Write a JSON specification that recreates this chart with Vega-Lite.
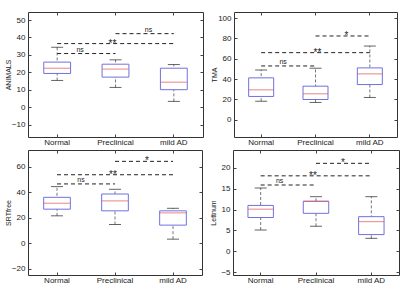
{
  "$schema": "https://vega.github.io/schema/vega-lite/v6.json",
  "padding": {"left": 3, "top": 11, "right": 0, "bottom": 0},
  "config": {
    "view": {"stroke": "#333", "strokeWidth": 1},
    "font": "Liberation Sans",
    "axis": {"labelFont": "Liberation Sans", "labelFontSize": 8, "labelColor": "#222", "titleFont": "Liberation Sans", "titleFontSize": 7, "titleFontWeight": "normal", "titleColor": "#222", "tickColor": "#444", "grid": false, "domain": false}
  },
  "datasets": {
    "b1": [
      {"group": "Normal", "lo": 15.4, "q1": 19.4, "med": 22.4, "q3": 25.9, "hi": 34.4},
      {"group": "Preclinical", "lo": 11.4, "q1": 17.3, "med": 21.9, "q3": 24.7, "hi": 27.2},
      {"group": "mild AD", "lo": 3.4, "q1": 10.1, "med": 14.4, "q3": 22.4, "hi": 24.5}
    ],
    "s1": [
      {"from": "Normal", "to": "Preclinical", "y": 30.8, "label": "ns"},
      {"from": "Normal", "to": "mild AD", "y": 36.5, "label": "**"},
      {"from": "Preclinical", "to": "mild AD", "y": 42.2, "label": "ns"}
    ],
    "b2": [
      {"group": "Normal", "lo": 18.3, "q1": 22.9, "med": 29.4, "q3": 41.2, "hi": 49},
      {"group": "Preclinical", "lo": 17, "q1": 19.9, "med": 25.5, "q3": 33, "hi": 50.7},
      {"group": "mild AD", "lo": 21.9, "q1": 34.6, "med": 45.1, "q3": 51, "hi": 72.5}
    ],
    "s2": [
      {"from": "Normal", "to": "Preclinical", "y": 52.9, "label": "ns"},
      {"from": "Normal", "to": "mild AD", "y": 66, "label": "**"},
      {"from": "Preclinical", "to": "mild AD", "y": 82.4, "label": "*"}
    ],
    "b3": [
      {"group": "Normal", "lo": 21.4, "q1": 26.6, "med": 31.3, "q3": 35.9, "hi": 44.3},
      {"group": "Preclinical", "lo": 14.6, "q1": 25.3, "med": 33.1, "q3": 38.5, "hi": 42.2},
      {"group": "mild AD", "lo": 3.1, "q1": 14.1, "med": 23.7, "q3": 25.3, "hi": 27.3}
    ],
    "s3": [
      {"from": "Normal", "to": "Preclinical", "y": 46.4, "label": "ns"},
      {"from": "Normal", "to": "mild AD", "y": 53.6, "label": "**"},
      {"from": "Preclinical", "to": "mild AD", "y": 64.1, "label": "*"}
    ],
    "b4": [
      {"group": "Normal", "lo": 5.1, "q1": 8.1, "med": 10.1, "q3": 11, "hi": 15.2},
      {"group": "Preclinical", "lo": 6, "q1": 9.1, "med": 12, "q3": 12, "hi": 13.1},
      {"group": "mild AD", "lo": 3.1, "q1": 4, "med": 7.1, "q3": 8.3, "hi": 13.1}
    ],
    "s4": [
      {"from": "Normal", "to": "Preclinical", "y": 15.9, "label": "ns"},
      {"from": "Normal", "to": "mild AD", "y": 18.1, "label": "**"},
      {"from": "Preclinical", "to": "mild AD", "y": 21.1, "label": "*"}
    ]
  },
  "spacing": 2,
  "vconcat": [
    {
      "spacing": 5,
      "hconcat": [
        {
          "width": 175, "height": 125,
          "resolve": {"axis": {"x": "independent", "y": "independent"}},
          "layer": [
            {"data": {"name": "b1"}, "mark": {"type": "rule", "strokeDash": [3, 2], "color": "#555", "strokeWidth": 0.8},
             "encoding": {
               "x": {"field": "group", "type": "nominal", "scale": {"type": "band", "domain": ["Normal", "Preclinical", "mild AD"], "paddingInner": 0, "paddingOuter": 0}, "axis": {"title": null, "labelAngle": 0, "tickSize": -3, "labelPadding": 4}},
               "y": {"field": "lo", "type": "quantitative", "scale": {"domain": [-17, 54.6], "nice": false, "zero": false}, "axis": {"title": "ANIMALS", "values": [-10, 0, 10, 20, 30, 40, 50], "tickSize": -3, "labelPadding": 6, "titleX": -17, "titleBaseline": "bottom"}},
               "y2": {"field": "hi"}}},
            {"data": {"name": "b1"}, "mark": {"type": "bar", "fill": "white", "stroke": "#7070e0", "strokeWidth": 1, "width": {"band": 0.46}},
             "encoding": {"x": {"field": "group", "type": "nominal", "axis": null}, "y": {"field": "q1", "type": "quantitative", "axis": null}, "y2": {"field": "q3"}}},
            {"data": {"name": "b1"}, "mark": {"type": "tick", "color": "#e05050", "size": 26, "thickness": 1},
             "encoding": {"x": {"field": "group", "type": "nominal", "axis": null}, "y": {"field": "med", "type": "quantitative", "axis": null}}},
            {"data": {"name": "b1"}, "mark": {"type": "tick", "color": "#222", "size": 12, "thickness": 1},
             "encoding": {"x": {"field": "group", "type": "nominal", "axis": null}, "y": {"field": "lo", "type": "quantitative", "axis": null}}},
            {"data": {"name": "b1"}, "mark": {"type": "tick", "color": "#222", "size": 12, "thickness": 1},
             "encoding": {"x": {"field": "group", "type": "nominal", "axis": null}, "y": {"field": "hi", "type": "quantitative", "axis": null}}},
            {"data": {"name": "s1"}, "mark": {"type": "rule", "strokeDash": [4, 3], "color": "#222", "strokeWidth": 1},
             "encoding": {
               "x": {"field": "from", "type": "nominal", "axis": {"orient": "top", "labels": false, "title": null, "tickSize": -3}},
               "x2": {"field": "to"},
               "y": {"field": "y", "type": "quantitative", "axis": {"orient": "right", "labels": false, "title": null, "tickSize": -3, "values": [-10, 0, 10, 20, 30, 40, 50]}}}},
            {"data": {"name": "s1"}, "transform": [{"filter": "datum.from == 'Normal' && datum.to == 'Preclinical'"}],
             "mark": {"type": "text", "dx": 23, "dy": -2, "baseline": "alphabetic", "fontSize": 7, "color": "#222"},
             "encoding": {"x": {"field": "from", "type": "nominal", "axis": null}, "y": {"field": "y", "type": "quantitative", "axis": null}, "text": {"field": "label"}}},
            {"data": {"name": "s1"}, "transform": [{"filter": "datum.from == 'Normal' && datum.to == 'mild AD'"}],
             "mark": {"type": "text", "dx": -3, "dy": 3, "baseline": "alphabetic", "fontSize": 10, "color": "#222"},
             "encoding": {"x": {"datum": "Preclinical", "type": "nominal", "axis": null}, "y": {"field": "y", "type": "quantitative", "axis": null}, "text": {"field": "label"}}},
            {"data": {"name": "s1"}, "transform": [{"filter": "datum.from == 'Preclinical'"}],
             "mark": {"type": "text", "dx": 33, "dy": -2, "baseline": "alphabetic", "fontSize": 7, "color": "#222"},
             "encoding": {"x": {"field": "from", "type": "nominal", "axis": null}, "y": {"field": "y", "type": "quantitative", "axis": null}, "text": {"field": "label"}}}
          ]
        },
        {
          "width": 163, "height": 125,
          "resolve": {"axis": {"x": "independent", "y": "independent"}},
          "layer": [
            {"data": {"name": "b2"}, "mark": {"type": "rule", "strokeDash": [3, 2], "color": "#555", "strokeWidth": 0.8},
             "encoding": {
               "x": {"field": "group", "type": "nominal", "scale": {"type": "band", "domain": ["Normal", "Preclinical", "mild AD"], "paddingInner": 0, "paddingOuter": 0}, "axis": {"title": null, "labelAngle": 0, "tickSize": -3, "labelPadding": 4}},
               "y": {"field": "lo", "type": "quantitative", "scale": {"domain": [-17, 106], "nice": false, "zero": false}, "axis": {"title": "TMA", "values": [0, 20, 40, 60, 80, 100], "tickSize": -3, "labelPadding": 6, "titleX": -17, "titleBaseline": "bottom"}},
               "y2": {"field": "hi"}}},
            {"data": {"name": "b2"}, "mark": {"type": "bar", "fill": "white", "stroke": "#7070e0", "strokeWidth": 1, "width": {"band": 0.46}},
             "encoding": {"x": {"field": "group", "type": "nominal", "axis": null}, "y": {"field": "q1", "type": "quantitative", "axis": null}, "y2": {"field": "q3"}}},
            {"data": {"name": "b2"}, "mark": {"type": "tick", "color": "#e05050", "size": 25, "thickness": 1},
             "encoding": {"x": {"field": "group", "type": "nominal", "axis": null}, "y": {"field": "med", "type": "quantitative", "axis": null}}},
            {"data": {"name": "b2"}, "mark": {"type": "tick", "color": "#222", "size": 12, "thickness": 1},
             "encoding": {"x": {"field": "group", "type": "nominal", "axis": null}, "y": {"field": "lo", "type": "quantitative", "axis": null}}},
            {"data": {"name": "b2"}, "mark": {"type": "tick", "color": "#222", "size": 12, "thickness": 1},
             "encoding": {"x": {"field": "group", "type": "nominal", "axis": null}, "y": {"field": "hi", "type": "quantitative", "axis": null}}},
            {"data": {"name": "s2"}, "mark": {"type": "rule", "strokeDash": [4, 3], "color": "#222", "strokeWidth": 1},
             "encoding": {
               "x": {"field": "from", "type": "nominal", "axis": {"orient": "top", "labels": false, "title": null, "tickSize": -3}},
               "x2": {"field": "to"},
               "y": {"field": "y", "type": "quantitative", "axis": {"orient": "right", "labels": false, "title": null, "tickSize": -3, "values": [0, 20, 40, 60, 80, 100]}}}},
            {"data": {"name": "s2"}, "transform": [{"filter": "datum.from == 'Normal' && datum.to == 'Preclinical'"}],
             "mark": {"type": "text", "dx": 22, "dy": -2, "baseline": "alphabetic", "fontSize": 7, "color": "#222"},
             "encoding": {"x": {"field": "from", "type": "nominal", "axis": null}, "y": {"field": "y", "type": "quantitative", "axis": null}, "text": {"field": "label"}}},
            {"data": {"name": "s2"}, "transform": [{"filter": "datum.from == 'Normal' && datum.to == 'mild AD'"}],
             "mark": {"type": "text", "dx": 2, "dy": 3, "baseline": "alphabetic", "fontSize": 10, "color": "#222"},
             "encoding": {"x": {"datum": "Preclinical", "type": "nominal", "axis": null}, "y": {"field": "y", "type": "quantitative", "axis": null}, "text": {"field": "label"}}},
            {"data": {"name": "s2"}, "transform": [{"filter": "datum.from == 'Preclinical'"}],
             "mark": {"type": "text", "dx": 31, "dy": 3, "baseline": "alphabetic", "fontSize": 10, "color": "#222"},
             "encoding": {"x": {"field": "from", "type": "nominal", "axis": null}, "y": {"field": "y", "type": "quantitative", "axis": null}, "text": {"field": "label"}}}
          ]
        }
      ]
    },
    {
      "spacing": 5,
      "hconcat": [
        {
          "width": 174, "height": 125,
          "resolve": {"axis": {"x": "independent", "y": "independent"}},
          "layer": [
            {"data": {"name": "b3"}, "mark": {"type": "rule", "strokeDash": [3, 2], "color": "#555", "strokeWidth": 0.8},
             "encoding": {
               "x": {"field": "group", "type": "nominal", "scale": {"type": "band", "domain": ["Normal", "Preclinical", "mild AD"], "paddingInner": 0, "paddingOuter": 0}, "axis": {"title": null, "labelAngle": 0, "tickSize": -3, "labelPadding": 4}},
               "y": {"field": "lo", "type": "quantitative", "scale": {"domain": [-25, 73], "nice": false, "zero": false}, "axis": {"title": "SRTfree", "values": [-20, 0, 20, 40, 60], "tickSize": -3, "labelPadding": 6, "titleX": -17, "titleBaseline": "bottom"}},
               "y2": {"field": "hi"}}},
            {"data": {"name": "b3"}, "mark": {"type": "bar", "fill": "white", "stroke": "#7070e0", "strokeWidth": 1, "width": {"band": 0.46}},
             "encoding": {"x": {"field": "group", "type": "nominal", "axis": null}, "y": {"field": "q1", "type": "quantitative", "axis": null}, "y2": {"field": "q3"}}},
            {"data": {"name": "b3"}, "mark": {"type": "tick", "color": "#e05050", "size": 26, "thickness": 1},
             "encoding": {"x": {"field": "group", "type": "nominal", "axis": null}, "y": {"field": "med", "type": "quantitative", "axis": null}}},
            {"data": {"name": "b3"}, "mark": {"type": "tick", "color": "#222", "size": 12, "thickness": 1},
             "encoding": {"x": {"field": "group", "type": "nominal", "axis": null}, "y": {"field": "lo", "type": "quantitative", "axis": null}}},
            {"data": {"name": "b3"}, "mark": {"type": "tick", "color": "#222", "size": 12, "thickness": 1},
             "encoding": {"x": {"field": "group", "type": "nominal", "axis": null}, "y": {"field": "hi", "type": "quantitative", "axis": null}}},
            {"data": {"name": "s3"}, "mark": {"type": "rule", "strokeDash": [4, 3], "color": "#222", "strokeWidth": 1},
             "encoding": {
               "x": {"field": "from", "type": "nominal", "axis": {"orient": "top", "labels": false, "title": null, "tickSize": -3}},
               "x2": {"field": "to"},
               "y": {"field": "y", "type": "quantitative", "axis": {"orient": "right", "labels": false, "title": null, "tickSize": -3, "values": [-20, 0, 20, 40, 60]}}}},
            {"data": {"name": "s3"}, "transform": [{"filter": "datum.from == 'Normal' && datum.to == 'Preclinical'"}],
             "mark": {"type": "text", "dx": 24, "dy": -2, "baseline": "alphabetic", "fontSize": 7, "color": "#222"},
             "encoding": {"x": {"field": "from", "type": "nominal", "axis": null}, "y": {"field": "y", "type": "quantitative", "axis": null}, "text": {"field": "label"}}},
            {"data": {"name": "s3"}, "transform": [{"filter": "datum.from == 'Normal' && datum.to == 'mild AD'"}],
             "mark": {"type": "text", "dx": -2, "dy": 3, "baseline": "alphabetic", "fontSize": 10, "color": "#222"},
             "encoding": {"x": {"datum": "Preclinical", "type": "nominal", "axis": null}, "y": {"field": "y", "type": "quantitative", "axis": null}, "text": {"field": "label"}}},
            {"data": {"name": "s3"}, "transform": [{"filter": "datum.from == 'Preclinical'"}],
             "mark": {"type": "text", "dx": 32, "dy": 3, "baseline": "alphabetic", "fontSize": 10, "color": "#222"},
             "encoding": {"x": {"field": "from", "type": "nominal", "axis": null}, "y": {"field": "y", "type": "quantitative", "axis": null}, "text": {"field": "label"}}}
          ]
        },
        {
          "width": 166, "height": 125,
          "resolve": {"axis": {"x": "independent", "y": "independent"}},
          "layer": [
            {"data": {"name": "b4"}, "mark": {"type": "rule", "strokeDash": [3, 2], "color": "#555", "strokeWidth": 0.8},
             "encoding": {
               "x": {"field": "group", "type": "nominal", "scale": {"type": "band", "domain": ["Normal", "Preclinical", "mild AD"], "paddingInner": 0, "paddingOuter": 0}, "axis": {"title": null, "labelAngle": 0, "tickSize": -3, "labelPadding": 4}},
               "y": {"field": "lo", "type": "quantitative", "scale": {"domain": [-5.7, 24.3], "nice": false, "zero": false}, "axis": {"title": "Lettnum", "values": [-5, 0, 5, 10, 15, 20], "tickSize": -3, "labelPadding": 6, "titleX": -17, "titleBaseline": "bottom"}},
               "y2": {"field": "hi"}}},
            {"data": {"name": "b4"}, "mark": {"type": "bar", "fill": "white", "stroke": "#7070e0", "strokeWidth": 1, "width": {"band": 0.46}},
             "encoding": {"x": {"field": "group", "type": "nominal", "axis": null}, "y": {"field": "q1", "type": "quantitative", "axis": null}, "y2": {"field": "q3"}}},
            {"data": {"name": "b4"}, "mark": {"type": "tick", "color": "#e05050", "size": 25, "thickness": 1},
             "encoding": {"x": {"field": "group", "type": "nominal", "axis": null}, "y": {"field": "med", "type": "quantitative", "axis": null}}},
            {"data": {"name": "b4"}, "mark": {"type": "tick", "color": "#222", "size": 12, "thickness": 1},
             "encoding": {"x": {"field": "group", "type": "nominal", "axis": null}, "y": {"field": "lo", "type": "quantitative", "axis": null}}},
            {"data": {"name": "b4"}, "mark": {"type": "tick", "color": "#222", "size": 12, "thickness": 1},
             "encoding": {"x": {"field": "group", "type": "nominal", "axis": null}, "y": {"field": "hi", "type": "quantitative", "axis": null}}},
            {"data": {"name": "s4"}, "mark": {"type": "rule", "strokeDash": [4, 3], "color": "#222", "strokeWidth": 1},
             "encoding": {
               "x": {"field": "from", "type": "nominal", "axis": {"orient": "top", "labels": false, "title": null, "tickSize": -3}},
               "x2": {"field": "to"},
               "y": {"field": "y", "type": "quantitative", "axis": {"orient": "right", "labels": false, "title": null, "tickSize": -3, "values": [-5, 0, 5, 10, 15, 20]}}}},
            {"data": {"name": "s4"}, "transform": [{"filter": "datum.from == 'Normal' && datum.to == 'Preclinical'"}],
             "mark": {"type": "text", "dx": 19, "dy": -2, "baseline": "alphabetic", "fontSize": 7, "color": "#222"},
             "encoding": {"x": {"field": "from", "type": "nominal", "axis": null}, "y": {"field": "y", "type": "quantitative", "axis": null}, "text": {"field": "label"}}},
            {"data": {"name": "s4"}, "transform": [{"filter": "datum.from == 'Normal' && datum.to == 'mild AD'"}],
             "mark": {"type": "text", "dx": -3, "dy": 3, "baseline": "alphabetic", "fontSize": 10, "color": "#222"},
             "encoding": {"x": {"datum": "Preclinical", "type": "nominal", "axis": null}, "y": {"field": "y", "type": "quantitative", "axis": null}, "text": {"field": "label"}}},
            {"data": {"name": "s4"}, "transform": [{"filter": "datum.from == 'Preclinical'"}],
             "mark": {"type": "text", "dx": 27, "dy": 3, "baseline": "alphabetic", "fontSize": 10, "color": "#222"},
             "encoding": {"x": {"field": "from", "type": "nominal", "axis": null}, "y": {"field": "y", "type": "quantitative", "axis": null}, "text": {"field": "label"}}}
          ]
        }
      ]
    }
  ]
}
